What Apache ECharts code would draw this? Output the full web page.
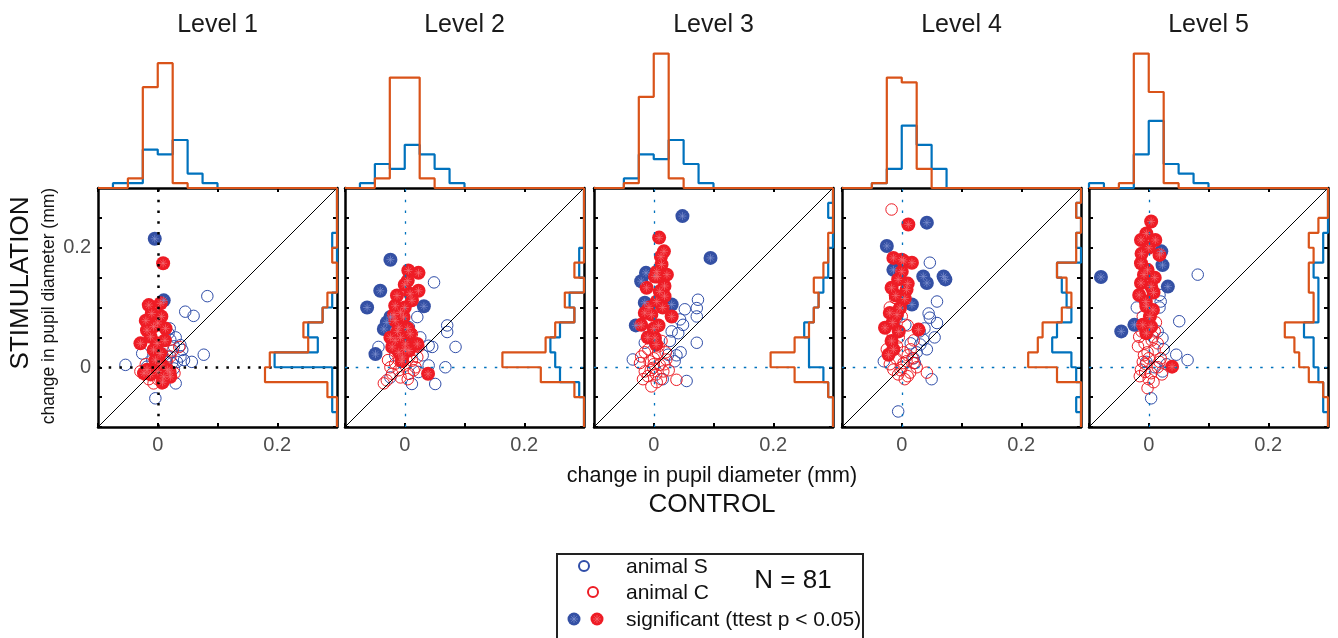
<!DOCTYPE html>
<html>
<head>
<meta charset="utf-8">
<title>pupil diameter</title>
<script src="https://cdn.jsdelivr.net/npm/echarts/dist/echarts.min.js"></script>
<style>
html, body { margin: 0; padding: 0; background: #fff; }
#main { width: 1338px; height: 638px; }
</style>
</head>
<body>
<div id="main"></div>
<script>
// panel titles
var levels = ['Level 1', 'Level 2', 'Level 3', 'Level 4', 'Level 5'];

// histogram bins: 16 bins of 0.025 starting at -0.1
var binStart = -0.1;
var binWidth = 0.025;

// top histograms (control), counts per bin
var topHistS = [
    [0, 1, 1, 8, 7, 10, 3, 1, 0, 0, 0, 0, 0, 0, 0, 0],
    [0, 1, 5, 4, 9, 7, 4, 1, 0, 0, 0, 0, 0, 0, 0, 0],
    [0, 0, 2, 7, 6, 10, 5, 1, 0, 0, 0, 0, 0, 0, 0, 0],
    [0, 0, 1, 4, 13, 9, 4, 0, 0, 0, 0, 0, 0, 0, 0, 0],
    [1, 0, 0, 7, 14, 5, 3, 1, 0, 0, 0, 0, 0, 0, 0, 0]
];
var topHistC = [
    [0, 0, 2, 21, 26, 1, 0, 0, 0, 0, 0, 0, 0, 0, 0, 0],
    [0, 0, 2, 23, 23, 2, 0, 0, 0, 0, 0, 0, 0, 0, 0, 0],
    [0, 0, 1, 19, 28, 2, 0, 0, 0, 0, 0, 0, 0, 0, 0, 0],
    [0, 0, 1, 23, 22, 4, 0, 0, 0, 0, 0, 0, 0, 0, 0, 0],
    [0, 0, 1, 28, 20, 1, 0, 0, 0, 0, 0, 0, 0, 0, 0, 0]
];
// right histograms (stimulation), counts per bin
var sideHistS = [
    [0, 1, 1, 1, 13, 4, 6, 3, 1, 0, 0, 0, 1, 0, 0, 0],
    [0, 0, 1, 5, 6, 7, 5, 2, 3, 0, 1, 1, 0, 0, 0, 0],
    [0, 0, 1, 2, 5, 5, 6, 4, 3, 2, 1, 1, 0, 0, 1, 0],
    [0, 1, 0, 1, 2, 6, 5, 2, 3, 4, 5, 0, 1, 0, 1, 0],
    [0, 1, 1, 2, 3, 3, 5, 2, 2, 2, 3, 1, 1, 0, 0, 0]
];
var sideHistC = [
    [0, 0, 2, 15, 14, 6, 7, 3, 2, 0, 0, 1, 0, 0, 0, 0],
    [0, 0, 2, 9, 17, 8, 6, 2, 4, 0, 2, 0, 0, 0, 0, 0],
    [0, 0, 1, 8, 13, 8, 5, 4, 3, 4, 2, 1, 1, 0, 0, 0],
    [0, 0, 0, 5, 11, 9, 8, 4, 2, 3, 5, 1, 1, 0, 1, 0],
    [0, 0, 1, 4, 6, 7, 9, 3, 3, 4, 4, 3, 4, 2, 0, 0]
];

// scatter points [control, stimulation] in mm
var sOpen = [
    [[-0.054,0.004],[0.083,0.119],[0.046,0.093],[0.06,0.086],[0.077,0.021],[0.057,0.009],[-0.004,-0.052],[0.03,-0.027],[0.018,0.057],[0.027,0.035],[0.038,0.037],[0.038,0.018],[0.024,0.007],[-0.026,0.023],[-0.018,0.001],[0.016,0.018],[0.041,0.029],[0.032,0.009],[0.007,0.023],[0.021,0.046],[0.044,0.012],[0.013,0.009],[-0.009,0.012],[0.027,-0.002],[0.03,0.05],[0.02,0.065]],
    [[0.049,0.142],[0.021,0.084],[0.071,0.07],[0.071,0.059],[0.085,0.034],[0.04,0.036],[0.046,0.034],[0.04,0.003],[0.068,0],[0.012,-0.028],[0.051,-0.028],[0.007,0.067],[0.026,0.05],[-0.016,0.02],[-0.044,0.034],[-0.024,-0.017],[0.023,-0.008],[0.03,0.02],[0.01,0.035]],
    [[0.074,0.113],[0.072,0.099],[0.052,0.097],[0.072,0.085],[0.044,0.08],[0.049,0.071],[0.041,0.057],[0.072,0.041],[0.03,0.06],[0.035,0.01],[0.055,-0.023],[-0.035,0.013],[-0.015,0.041],[0.027,0.044],[0.024,0.021],[-0.007,0.058],[0.038,0.02],[0.015,-0.02],[0.045,0.025]],
    [[0.047,0.175],[0.059,0.11],[0.047,0.083],[0.059,0.074],[0.031,0.038],[0.036,0.046],[0.042,0.03],[0.006,0.071],[-0.006,-0.074],[0.022,0.007],[0.045,0.09],[0.03,0.06],[0.025,0.025],[0.055,0.05],[0.038,0.065],[0.015,0.04],[-0.03,0.01],[0.05,-0.02],[0.02,0.015]],
    [[0.082,0.155],[0.018,0.121],[0.051,0.077],[0.065,0.012],[0.046,0.021],[0.023,0.049],[0.004,-0.052],[0.023,-0.007],[-0.004,0.009],[0.018,0.1],[0.015,0.06],[0.025,0.03],[0.02,0.11],[-0.02,0.1],[0.03,0.005],[0.01,0.0]]
];
var cOpen = [
    [[-0.029,-0.007],[-0.007,-0.027],[0.007,-0.027],[0.036,0.034],[0.021,0.018],[-0.015,-0.02],[0.015,0.01],[0.025,0.028],[-0.02,0.005],[0.0,-0.02],[0.01,0.002],[0.028,-0.01]],
    [[-0.03,-0.022],[-0.035,-0.027],[-0.021,-0.011],[-0.007,-0.017],[0.007,-0.011],[0.018,0],[-0.016,0.006],[0.001,0.003],[0.012,0.011],[-0.024,0],[0.021,0.017],[0.012,0.056],[0.023,0.034],[-0.01,-0.005],[0.005,-0.02],[0.015,-0.005],[-0.028,0.012],[0.008,0.018]],
    [[-0.021,0.018],[-0.007,0.01],[0.01,0.004],[-0.001,-0.001],[-0.015,-0.007],[0.016,-0.007],[-0.004,-0.032],[0.038,-0.021],[0.004,-0.012],[0.021,0.013],[-0.009,0.03],[0.007,0.024],[-0.023,0.007],[0.013,0.044],[-0.01,-0.015],[0.025,-0.005],[0.0,0.015],[-0.005,-0.005],[0.012,-0.02],[0.02,0.025],[-0.015,0.025],[0.008,0.035],[0.0,0.005],[0.018,0.005],[-0.018,-0.02],[0.005,-0.025]],
    [[-0.017,0.264],[-0.014,-0.004],[-0.006,-0.012],[0.014,-0.009],[0.042,-0.009],[0.003,0.007],[0.02,0.007],[-0.011,0.116],[-0.02,0.1],[-0.005,0.05],[0.01,0.02],[-0.01,0.015],[0.015,0.03],[-0.02,0.005],[0.005,-0.02],[0.025,0.0],[-0.008,0.035],[0.0,0.0],[0.01,0.07],[-0.015,0.055],[0.02,0.045],[0.0,0.085],[0.008,0.01],[-0.002,-0.005],[0.018,0.015],[0.01,-0.015],[-0.025,0.03],[0.003,0.025]],
    [[-0.016,0.051],[-0.007,0.04],[0.007,0.051],[-0.01,0.009],[0.018,0.009],[-0.013,-0.004],[0.004,-0.01],[-0.002,-0.035],[0.015,0.0],[-0.008,0.02],[0.01,0.03],[-0.015,-0.015],[0.0,-0.02],[-0.005,0.005],[0.02,0.015],[0.005,0.045],[-0.012,0.06],[0.01,0.06],[-0.002,0.025],[0.008,-0.025],[-0.018,0.035],[0.012,0.075],[-0.01,0.085],[0.0,0.015],[0.022,-0.012],[-0.006,-0.008],[0.015,0.04]]
];
var sSig = [
    [[-0.005,0.215],[0.01,0.112]],
    [[-0.024,0.18],[-0.041,0.128],[-0.063,0.1],[-0.035,0.064],[-0.049,0.022],[-0.024,0.084],[0.032,0.102],[-0.03,0.075]],
    [[0.048,0.253],[0.095,0.183],[-0.013,0.158],[-0.021,0.144],[-0.015,0.108],[-0.03,0.07],[0.03,0.105]],
    [[0.042,0.242],[-0.025,0.203],[-0.014,0.163],[0.036,0.152],[0.042,0.141],[0.07,0.152],[0.073,0.147],[0.017,0.105]],
    [[-0.08,0.151],[-0.046,0.06],[0.023,0.171],[0.032,0.135],[0.021,0.194],[-0.024,0.071]]
];
var cSig = [
    [[0.009,0.174],[-0.015,0.104],[0.005,0.107],[0,0.074],[-0.018,0.062],[-0.007,0.068],[0.013,0.065],[-0.029,0.04],[-0.012,0.051],[-0.001,0.04],[-0.007,0.029],[0.004,0.023],[-0.018,-0.004],[0,-0.007],[0.016,-0.004],[0.01,-0.016],[0.021,-0.016],[-0.004,0.012],[-0.023,-0.01],[0.006,0.085],[-0.01,0.09],[0.012,0.045],[-0.02,0.078],[0.008,-0.025],[0.02,-0.008],[-0.012,-0.012],[0.005,0.005]],
    [[0.006,0.162],[0.023,0.158],[0,0.138],[0.023,0.128],[-0.013,0.12],[0.009,0.123],[0.012,0.112],[-0.016,0.103],[-0.007,0.092],[-0.016,0.078],[-0.01,0.067],[0.009,0.056],[-0.024,0.05],[-0.016,0.045],[-0.007,0.05],[0.001,0.039],[-0.021,0.034],[-0.01,0.025],[0.007,0.028],[-0.004,0.017],[0.039,-0.011],[0.021,0.039],[-0.002,0.084],[0.005,0.145],[0.0,0.1],[-0.012,0.06],[0.005,0.065],[-0.005,0.01],[0.0,0.03],[-0.018,0.088]],
    [[0.009,0.217],[0.017,0.194],[0.013,0.172],[0.022,0.155],[0.006,0.152],[-0.012,0.133],[0.018,0.136],[0.018,0.119],[-0.015,0.091],[-0.004,0.088],[-0.021,0.071],[0.03,0.085],[0.002,0.049],[0.004,0.038],[0.002,0.152],[0.01,0.127],[0.012,0.185],[0.005,0.11],[-0.008,0.1],[0.0,0.065],[0.008,0.07],[-0.01,0.05],[0.015,0.1],[0.005,0.16]],
    [[0.011,0.239],[-0.014,0.183],[0.003,0.178],[0.017,0.175],[-0.006,0.147],[-0.017,0.133],[0.008,0.13],[-0.02,0.091],[-0.008,0.088],[-0.028,0.066],[0.028,0.063],[-0.017,0.044],[-0.022,0.021],[-0.014,0.03],[-0.003,0.099],[0.0,0.16],[-0.01,0.12],[0.005,0.115],[-0.015,0.075],[-0.005,0.06],[0.0,0.18],[0.01,0.14]],
    [[0.004,0.244],[-0.013,0.213],[0.011,0.213],[-0.004,0.224],[0.018,0.188],[-0.013,0.174],[-0.002,0.163],[-0.013,0.141],[0.004,0.135],[-0.016,0.121],[-0.004,0.102],[0.007,0.096],[-0.01,0.071],[0.004,0.068],[-0.004,0.057],[0.039,0.001],[0.0,0.2],[-0.008,0.155],[0.01,0.15],[-0.005,0.11],[0.002,0.085],[-0.012,0.19],[0.008,0.125]]
];

var FONT = 'Liberation Sans, Arial, Helvetica, sans-serif';
var BLUE = '#2F4DA8', RED = '#ED1C24';
var HBLUE = '#0072BD', HORANGE = '#D95319';

var panelLeft = [98, 345, 594, 842, 1089];
var boxTop = 188, boxSize = 239;
var pxPerCount = 4.8;

function topSteps(counts) {
    var pts = [[binStart, 0]];
    for (var i = 0; i < counts.length; i++) {
        var lo = binStart + i * binWidth;
        pts.push([lo, counts[i]], [lo + binWidth, counts[i]]);
    }
    pts.push([binStart + counts.length * binWidth, 0]);
    return pts;
}
function sideSteps(counts) {
    return topSteps(counts).map(function(p) { return [p[1], p[0]]; });
}
function near(v, t) { return Math.abs(v - t) < 1e-6; }
function tickLabel(v) { return near(v, 0) ? '0' : (near(v, 0.2) ? '0.2' : ''); }

var boxLine = { show: true, onZero: false, lineStyle: { color: '#000', width: 2.5 } };
var boxTick = { show: true, inside: true, length: 4, lineStyle: { color: '#000', width: 2 } };

var grids = [], xAxes = [], yAxes = [], series = [], graphics = [];

for (var p = 0; p < 5; p++) {
    var L = panelLeft[p];
    grids.push({ left: L, top: boxTop, width: boxSize, height: boxSize });
    grids.push({ left: L, top: boxTop, width: boxSize, height: boxSize });
    grids.push({ left: L, top: boxTop - 144, width: boxSize, height: 144 });
    var g = 3 * p, a = 4 * p;

    xAxes.push({
        type: 'value', gridIndex: g, min: -0.1, max: 0.3, interval: 0.1, position: 'bottom',
        axisLine: boxLine, axisTick: boxTick, splitLine: { show: false },
        axisLabel: { color: '#4d4d4d', fontSize: 20, fontFamily: FONT, margin: 8, formatter: tickLabel }
    });
    xAxes.push({
        type: 'value', gridIndex: g, min: -0.1, max: 0.3, interval: 0.1, position: 'top',
        axisLine: boxLine, axisTick: boxTick, splitLine: { show: false }, axisLabel: { show: false }
    });
    xAxes.push({
        type: 'value', gridIndex: g + 1, min: 0, max: boxSize / pxPerCount, inverse: true,
        show: false, splitLine: { show: false }
    });
    xAxes.push({
        type: 'value', gridIndex: g + 2, min: -0.1, max: 0.3,
        show: false, splitLine: { show: false }
    });

    yAxes.push({
        type: 'value', gridIndex: g, min: -0.1, max: 0.3, interval: 0.05, position: 'left',
        axisLine: boxLine, axisTick: boxTick, splitLine: { show: false },
        axisLabel: { show: p === 0, color: '#4d4d4d', fontSize: 20, fontFamily: FONT, margin: 7, formatter: tickLabel }
    });
    yAxes.push({
        type: 'value', gridIndex: g, min: -0.1, max: 0.3, interval: 0.05, position: 'right',
        axisLine: boxLine, axisTick: boxTick, splitLine: { show: false }, axisLabel: { show: false }
    });
    yAxes.push({
        type: 'value', gridIndex: g + 1, min: -0.1, max: 0.3,
        show: false, splitLine: { show: false }
    });
    yAxes.push({
        type: 'value', gridIndex: g + 2, min: 0, max: 144 / pxPerCount,
        show: false, splitLine: { show: false }
    });

    var refColor = p === 0 ? '#000' : HBLUE;
    var refWidth = p === 0 ? 2.5 : 1.3;
    var star = 'path://M5,0L5,10M0,5L10,5M1.5,1.5L8.5,8.5M1.5,8.5L8.5,1.5';

    series.push({
        type: 'scatter', xAxisIndex: a, yAxisIndex: a, data: sOpen[p], symbol: 'circle', symbolSize: 11.5,
        itemStyle: { color: 'rgba(0,0,0,0)', borderColor: BLUE, borderWidth: 1, opacity: 1 }, z: 3
    });
    series.push({
        type: 'scatter', xAxisIndex: a, yAxisIndex: a, data: cOpen[p], symbol: 'circle', symbolSize: 11.5,
        itemStyle: { color: 'rgba(0,0,0,0)', borderColor: RED, borderWidth: 1, opacity: 1 }, z: 3
    });
    series.push({
        type: 'scatter', xAxisIndex: a, yAxisIndex: a, data: sSig[p], symbol: 'circle', symbolSize: 14,
        itemStyle: { color: '#3450A4', opacity: 1 }, z: 4
    });
    series.push({
        type: 'scatter', xAxisIndex: a, yAxisIndex: a, data: cSig[p], symbol: 'circle', symbolSize: 14,
        itemStyle: { color: '#EE1C25', opacity: 1 }, z: 4
    });
    series.push({
        type: 'scatter', xAxisIndex: a, yAxisIndex: a, data: sSig[p], symbol: star, symbolSize: 8,
        itemStyle: { color: 'rgba(0,0,0,0)', borderColor: '#7F90CF', borderWidth: 0.7, opacity: 1 }, z: 5
    });
    series.push({
        type: 'scatter', xAxisIndex: a, yAxisIndex: a, data: cSig[p], symbol: star, symbolSize: 8,
        itemStyle: { color: 'rgba(0,0,0,0)', borderColor: '#F46E74', borderWidth: 0.7, opacity: 1 }, z: 5
    });
    series.push({
        type: 'line', xAxisIndex: a, yAxisIndex: a, data: [[-0.1, -0.1], [0.3, 0.3]],
        symbol: 'none', lineStyle: { color: '#000', width: 1 }, z: 6,
        markLine: {
            silent: true, symbol: ['none', 'none'], label: { show: false },
            lineStyle: { color: refColor, width: refWidth, type: [2.5, 8.2] },
            data: [{ xAxis: 0 }, { yAxis: 0 }]
        }
    });
    // side histograms
    series.push({
        type: 'line', xAxisIndex: a + 2, yAxisIndex: a + 2, data: sideSteps(sideHistS[p]),
        symbol: 'none', clip: false, lineStyle: { color: HBLUE, width: 2.2 }, z: 7
    });
    series.push({
        type: 'line', xAxisIndex: a + 2, yAxisIndex: a + 2, data: sideSteps(sideHistC[p]),
        symbol: 'none', clip: false, lineStyle: { color: HORANGE, width: 2.2 }, z: 8
    });
    // top histograms
    series.push({
        type: 'line', xAxisIndex: a + 3, yAxisIndex: a + 3, data: topSteps(topHistS[p]),
        symbol: 'none', clip: false, lineStyle: { color: HBLUE, width: 2.2 }, z: 7
    });
    series.push({
        type: 'line', xAxisIndex: a + 3, yAxisIndex: a + 3, data: topSteps(topHistC[p]),
        symbol: 'none', clip: false, lineStyle: { color: HORANGE, width: 2.2 }, z: 8
    });

    graphics.push({
        type: 'text', x: L + boxSize / 2, y: 25,
        style: { text: levels[p], fontSize: 25, fontFamily: FONT, fill: '#1a1a1a', align: 'center', verticalAlign: 'middle' }
    });
}

// axis names
graphics.push({
    type: 'text', x: 21, y: 283, rotation: Math.PI / 2,
    style: { text: 'STIMULATION', fontSize: 26, fontFamily: FONT, fill: '#111', align: 'center', verticalAlign: 'middle' }
});
graphics.push({
    type: 'text', x: 49, y: 306, rotation: Math.PI / 2,
    style: { text: 'change in pupil diameter (mm)', fontSize: 17.5, fontFamily: FONT, fill: '#111', align: 'center', verticalAlign: 'middle' }
});
graphics.push({
    type: 'text', x: 712, y: 476,
    style: { text: 'change in pupil diameter (mm)', fontSize: 21.5, fontFamily: FONT, fill: '#111', align: 'center', verticalAlign: 'middle' }
});
graphics.push({
    type: 'text', x: 712, y: 505,
    style: { text: 'CONTROL', fontSize: 26, fontFamily: FONT, fill: '#111', align: 'center', verticalAlign: 'middle' }
});

// legend box
graphics.push({
    type: 'rect', shape: { x: 557, y: 554, width: 306, height: 100 },
    style: { fill: '#fff', stroke: '#222', lineWidth: 2 }, z: 10
});
graphics.push({ type: 'circle', shape: { cx: 584, cy: 566, r: 5 }, style: { fill: 'none', stroke: BLUE, lineWidth: 2 }, z: 11 });
graphics.push({ type: 'circle', shape: { cx: 593, cy: 592, r: 5 }, style: { fill: 'none', stroke: RED, lineWidth: 2 }, z: 11 });
graphics.push({ type: 'circle', shape: { cx: 574, cy: 619, r: 6.5 }, style: { fill: '#3450A4' }, z: 11 });
graphics.push({ type: 'circle', shape: { cx: 597, cy: 619, r: 6.5 }, style: { fill: '#EE1C25' }, z: 11 });
[[574, '#7F90CF'], [597, '#F46E74']].forEach(function(m) {
    var d = [[-4, 0, 4, 0], [0, -4, 0, 4], [-2.8, -2.8, 2.8, 2.8], [-2.8, 2.8, 2.8, -2.8]];
    d.forEach(function(s) {
        graphics.push({
            type: 'line', shape: { x1: m[0] + s[0], y1: 619 + s[1], x2: m[0] + s[2], y2: 619 + s[3] },
            style: { stroke: m[1], lineWidth: 0.7 }, z: 12
        });
    });
});
[['animal S', 567], ['animal C', 593], ['significant (ttest p < 0.05)', 620]].forEach(function(t) {
    graphics.push({
        type: 'text', x: 626, y: t[1], z: 12,
        style: { text: t[0], fontSize: 21, fontFamily: FONT, fill: '#111', align: 'left', verticalAlign: 'middle' }
    });
});
graphics.push({
    type: 'text', x: 793, y: 581, z: 12,
    style: { text: 'N = 81', fontSize: 26, fontFamily: FONT, fill: '#111', align: 'center', verticalAlign: 'middle' }
});

var option = {
    backgroundColor: '#fff',
    animation: false,
    grid: grids,
    xAxis: xAxes,
    yAxis: yAxes,
    series: series,
    graphic: graphics
};

var myChart = echarts.init(document.getElementById('main'));
myChart.setOption(option);
</script>
</body>
</html>
